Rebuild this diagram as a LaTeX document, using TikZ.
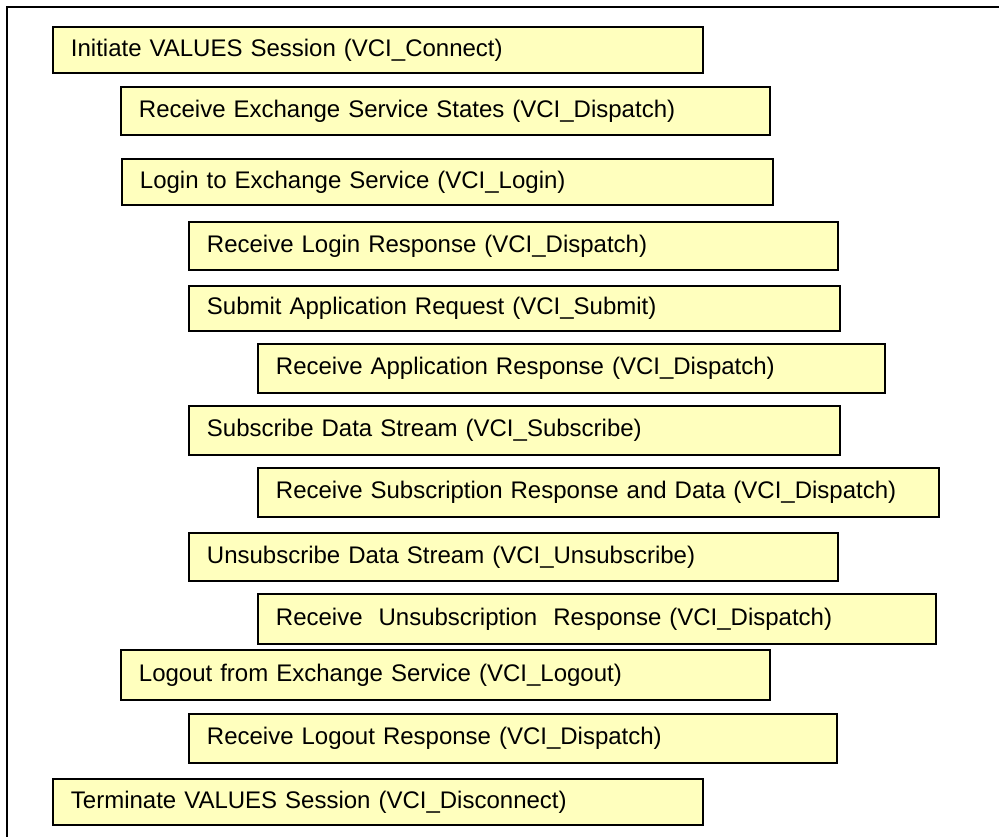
\documentclass[tikz,border=0pt]{standalone}
\usepackage{fontspec}
\setmainfont{Liberation Sans}
\usepackage{xcolor}
\definecolor{boxfill}{RGB}{255,255,190}

\begin{document}
\begin{tikzpicture}[x=0.75pt,y=-0.75pt,
    vstep/.style={draw=black,line width=1.4pt,fill=boxfill,rectangle,anchor=north west,
                  inner xsep=13.5pt,inner ysep=0pt,align=left,font=\fontsize{18}{20}\selectfont},
    pbox/.style 2 args={text width={(#1-36)*0.75pt},minimum height={#2*0.75pt}}]
    \useasboundingbox (0,0) rectangle (999,837);
    \clip (0,0) rectangle (999,837);
    \draw[line width=1.3pt] (7,7) rectangle (1020,860);

    \node[vstep,pbox={650}{46}] (connect)    at (52,26)   {Initiate VALUES Session (VCI\_Connect)};
    \node[vstep,pbox={649}{48}] (states)     at (120,86)  {Receive Exchange Service States (VCI\_Dispatch)};
    \node[vstep,pbox={651}{46}] (login)      at (121,158) {Login to Exchange Service (VCI\_Login)};
    \node[vstep,pbox={649}{48}] (loginresp)  at (188,221) {Receive Login Response (VCI\_Dispatch)};
    \node[vstep,pbox={651}{45}] (submit)     at (188,285) {Submit Application Request (VCI\_Submit)};
    \node[vstep,pbox={627}{49}] (appresp)    at (257,343) {Receive Application Response (VCI\_Dispatch)};
    \node[vstep,pbox={651}{49}] (subscribe)  at (188,405) {Subscribe Data Stream (VCI\_Subscribe)};
    \node[vstep,pbox={681}{49}] (subresp)    at (257,467) {Receive Subscription Response and Data (VCI\_Dispatch)};
    \node[vstep,pbox={649}{48}] (unsub)      at (188,532) {Unsubscribe Data Stream (VCI\_Unsubscribe)};
    \node[vstep,pbox={678}{50}] (unsubresp)  at (257,593) {Receive~ Unsubscription~ Response (VCI\_Dispatch)};
    \node[vstep,pbox={649}{50}] (logout)     at (120,649) {Logout from Exchange Service (VCI\_Logout)};
    \node[vstep,pbox={648}{49}] (logoutresp) at (188,713) {Receive Logout Response (VCI\_Dispatch)};
    \node[vstep,pbox={650}{46}] (disconnect) at (52,778)  {Terminate VALUES Session (VCI\_Disconnect)};
\end{tikzpicture}
\end{document}
